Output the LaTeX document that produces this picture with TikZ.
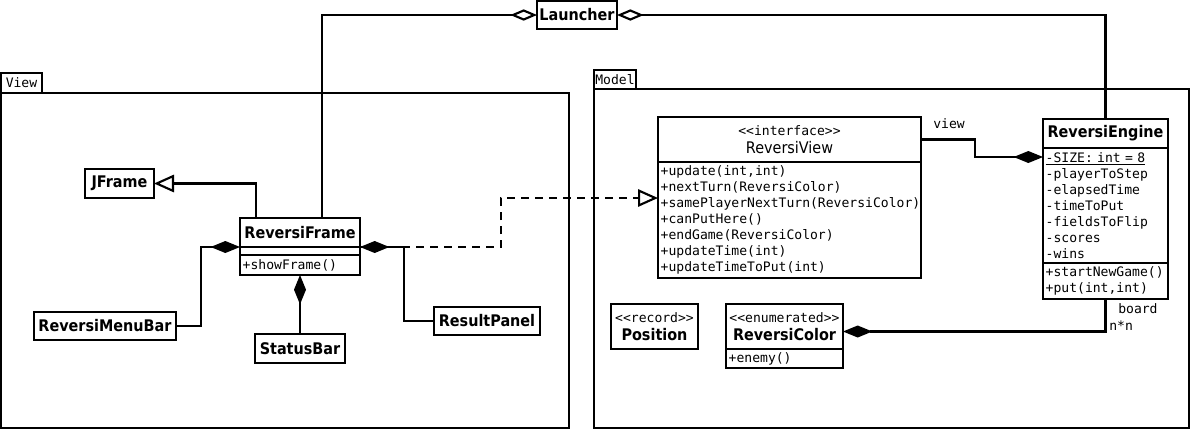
\documentclass[tikz,border=0pt]{standalone}
\usepackage{fontspec}
\setmonofont{DejaVu Sans Mono}
\newfontfamily\clsfont[FakeStretch=0.9]{DejaVu Sans}
\usepackage{tikz}
\usetikzlibrary{arrows.meta,positioning}
\newcommand\monotext{\ttfamily\mdseries\fontsize{9.8}{12}\selectfont}
\newcommand\clsname{\clsfont\bfseries\fontsize{12}{14}\selectfont}
\newcommand\clsplain{\clsfont\mdseries\fontsize{12}{14}\selectfont}
\newcommand\stereo[1]{{\monotext<<#1>>}}

\tikzset{
  umlbox/.style={draw, line width=1.6pt, fill=white, inner sep=0pt, outer sep=0pt, anchor=north west},
  cls/.style={umlbox, align=center, font=\clsname},
  compart/.style={umlbox, inner xsep=2pt, text width=#1, align=left, font=\monotext},
  pkg/.style={draw, line width=1.6pt, inner sep=0pt, outer sep=0pt, anchor=north west, font=\monotext},
  conn/.style={line width=1.6pt},
  comp/.style={conn, {Diamond[length=22pt, width=9pt]}-},
  aggr/.style={conn, {Diamond[open, fill=white, length=20pt, width=8.5pt]}-},
  inherit/.style={conn, -{Triangle[open, fill=white, length=15pt, width=13pt]}},
  realize/.style={inherit, dash pattern=on 6pt off 4.5pt},
  lbl/.style={inner sep=0pt, anchor=base west, font=\monotext},
}

\begin{document}
\begin{tikzpicture}[x=0.75pt, y=-0.75pt]
  \useasboundingbox (0,0) rectangle (1192,430);

  % Packages
  \node[pkg, minimum width=30.75pt, minimum height=15pt] (viewtab) at (1,73) {View};
  \node[pkg, minimum width=426pt, minimum height=251.25pt] (viewpkg) at (viewtab.south west) {};
  \node[pkg, minimum width=31.5pt, minimum height=14.25pt] (modeltab) at (594,70) {Model};
  \node[pkg, minimum width=446.25pt, minimum height=254.25pt] (modelpkg) at (modeltab.south west) {};

  % Classes
  \node[cls, minimum width=60pt, minimum height=21pt] (launcher) at (537,1) {Launcher};
  \node[cls, minimum width=51.75pt, minimum height=21.75pt] (jframe) at (85,169) {JFrame};
  \node[cls, minimum width=90pt, minimum height=21.75pt] (rframe) at (240,218) {ReversiFrame};
  \node[compart=86pt, minimum height=6pt] (rfattr) at (rframe.south west) {};
  \node[compart=86pt, minimum height=15pt] (rfmeth) at (rfattr.south west) {+showFrame()};
  \node[cls, minimum width=106.5pt, minimum height=21pt] (menubar) at (34,312) {ReversiMenuBar};
  \node[cls, minimum width=67.5pt, minimum height=21.75pt] (status) at (255,334) {StatusBar};
  \node[cls, minimum width=79.5pt, minimum height=21pt] (result) at (434,307) {ResultPanel};

  \node[cls, minimum width=197.25pt, minimum height=33.75pt, font=\clsplain] (rvname) at (658,117) {\stereo{interface}\\ReversiView};
  \node[compart=193.25pt, minimum height=87pt] (rvmeth) at (rvname.south west) {+update(int,int)\\+nextTurn(ReversiColor)\\+samePlayerNextTurn(ReversiColor)\\+canPutHere()\\+endGame(ReversiColor)\\+updateTime(int)\\+updateTimeToPut(int)};

  \node[cls, minimum width=93.75pt, minimum height=21.75pt] (rengine) at (1043,119) {ReversiEngine};
  \node[compart=89.75pt, minimum height=86.25pt] (reattr) at (rengine.south west) {\underline{-SIZE: int = 8}\\-playerToStep\\-elapsedTime\\-timeToPut\\-fieldsToFlip\\-scores\\-wins};
  \node[compart=89.75pt, minimum height=27pt] (remeth) at (reattr.south west) {+startNewGame()\\+put(int,int)};

  \node[cls, minimum width=65.25pt, minimum height=33.75pt] (position) at (611,304) {\stereo{record}\\Position};
  \node[cls, minimum width=87.75pt, minimum height=33.75pt] (rcname) at (726,304) {\stereo{enumerated}\\ReversiColor};
  \node[compart=83.75pt, minimum height=14.25pt] (rcmeth) at (rcname.south west) {+enemy()};

  % Edges
  \draw[aggr] (launcher.west) -| ([xshift=16.5pt]rframe.north);
  \draw[aggr] (launcher.east) -| (rengine.north);
  \draw[inherit] ([xshift=-33pt]rframe.north) |- (jframe.east);
  \draw[realize] (rframe.south east) -- ++(141,0) |- ([yshift=16.5pt]rvmeth.west);
  \draw[comp] (rframe.south west) -- ++(-39,0) |- (menubar.east);
  \draw[comp] (rframe.south east) -- ++(44,0) |- (result.west);
  \draw[comp] (rfmeth.south) -- (status.north);
  \draw[comp] ([yshift=-6.75pt]reattr.north west) -- ++(-68,0) |- (rvname.east);
  \draw[comp] ([yshift=-3.75pt]rcname.east) -| (remeth.south);

  % Labels
  \node[lbl] (viewlbl) at (933,128) {view};
  \node[lbl] (boardlbl) at (1118,313.5) {board};
  \node[lbl] (multlbl) at (1109,330) {n*n};
\end{tikzpicture}
\end{document}
